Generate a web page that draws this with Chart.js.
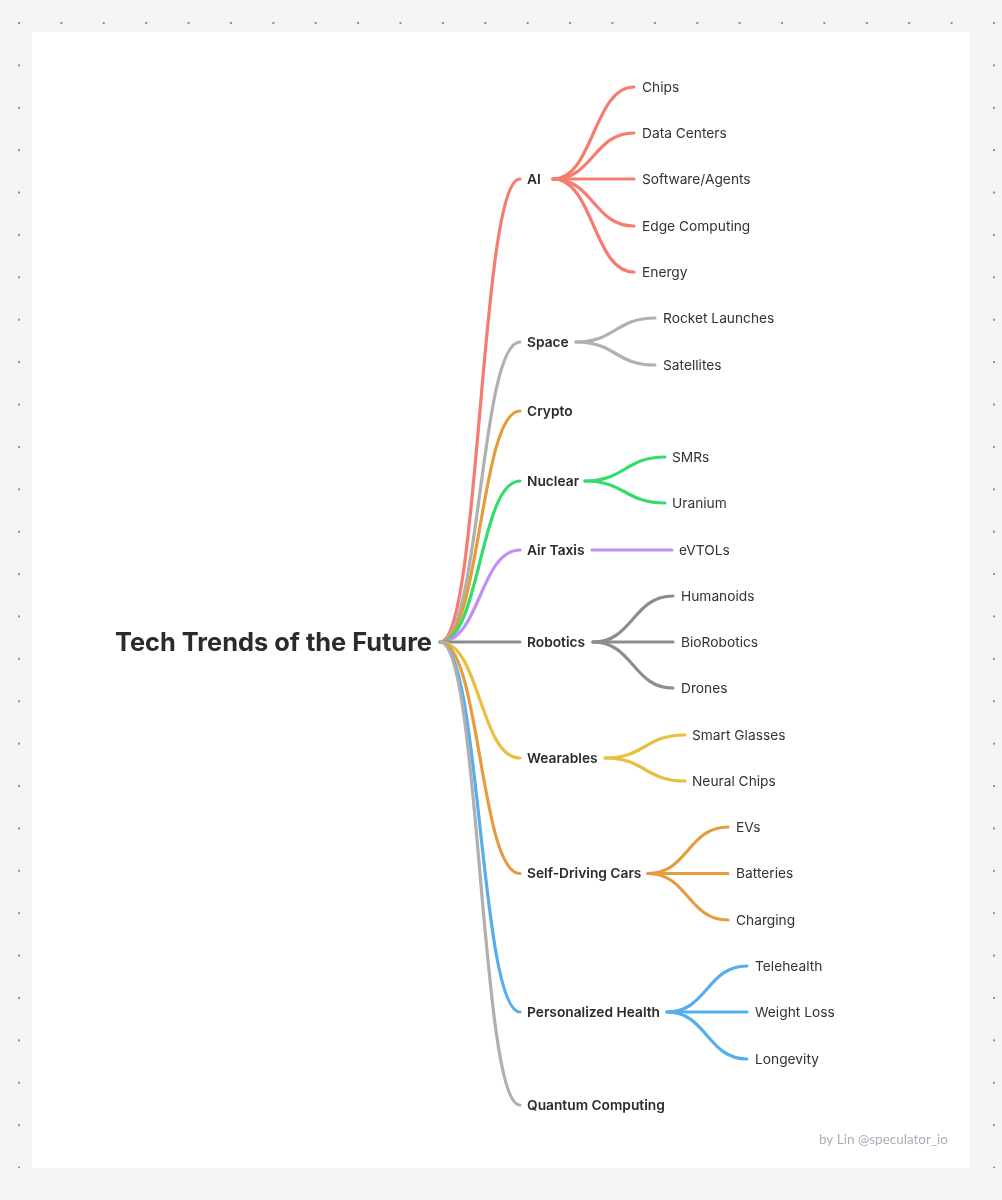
<!DOCTYPE html>
<html>
<head>
<meta charset="utf-8">
<title>Tech Trends of the Future</title>
<script src="https://cdn.jsdelivr.net/npm/chart.js@4"></script>
<style>
  html, body { margin: 0; padding: 0; }
  body {
    width: 1002px; height: 1200px; position: relative; overflow: hidden;
    background-color: #f4f4f4;
    background-image: radial-gradient(circle at 1px 1px, #8f8f8f 0, #8f8f8f 0.9px, transparent 1.3px);
    background-size: 42.4px 42.4px;
    background-position: 18px 22px;
  }
  #panel { position: absolute; left: 32px; top: 32px; width: 938px; height: 1136px; background: #fff; }
  #cover { position: absolute; left: 0; top: 1168px; width: 1002px; height: 32px; background: #f4f4f4; }
  #chart { position: absolute; left: 0; top: 0; }
</style>
</head>
<body>
<div id="panel"></div>
<div id="cover"></div>
<canvas id="chart" width="1002" height="1200"></canvas>
<script>
const title = 'Tech Trends of the Future';
const credit = 'by Lin @speculator_io';
const root = [440, 642];

const branches = ['AI', 'Space', 'Crypto', 'Nuclear', 'Air Taxis', 'Robotics', 'Wearables', 'Self-Driving Cars', 'Personalized Health', 'Quantum Computing'];
const branchY = [179, 342, 411, 481, 550, 642, 758, 873.5, 1012, 1105];
const branchColors = ['#f67c70', '#b0b0b0', '#e59c3d', '#33dc6c', '#c190f6', '#8d8d8d', '#e8c040', '#e69c3e', '#57aeee', '#b0b0b0'];
const leaves = [
  ['Chips', 'Data Centers', 'Software/Agents', 'Edge Computing', 'Energy'],
  ['Rocket Launches', 'Satellites'],
  [],
  ['SMRs', 'Uranium'],
  ['eVTOLs'],
  ['Humanoids', 'BioRobotics', 'Drones'],
  ['Smart Glasses', 'Neural Chips'],
  ['EVs', 'Batteries', 'Charging'],
  ['Telehealth', 'Weight Loss', 'Longevity'],
  [],
];
const leafY = [
  [87, 133, 179, 226, 272],
  [318, 365],
  [],
  [457, 503],
  [550],
  [596, 642, 688],
  [735, 781],
  [827, 873.5, 920],
  [966, 1012, 1059],
  [],
];
const branchEndX = 520;
const branchTextX = 527;
const leafStartX = [553, 576, 0, 585, 592, 593, 605, 648, 667, 0];
const leafEndX = [634, 655, 0, 665, 672, 673, 685, 728, 747, 0];
const leafTextX = [642, 663, 0, 672, 679, 681, 692, 736, 755, 0];

// one dataset per link, later links are painted on top at the root
const links = [];
branches.forEach((name, i) => {
  links.push({ data: [{ x: root[0], y: root[1] }, { x: branchEndX, y: branchY[i] }], color: branchColors[i] });
  leafY[i].forEach((y) => {
    links.push({ data: [{ x: leafStartX[i], y: branchY[i] }, { x: leafEndX[i], y }], color: branchColors[i] });
  });
});

// flat-in flat-out curves: both control points sit at the middle x of the link
const sCurves = {
  id: 'sCurves',
  beforeDatasetDraw(chart, args) {
    const line = args.meta.dataset;
    line.updateControlPoints(chart.chartArea);
    const [a, b] = args.meta.data;
    const midX = (a.x + b.x) / 2;
    a.cp2x = midX; a.cp2y = a.y;
    b.cp1x = midX; b.cp1y = b.y;
  },
};

const mapLabels = {
  id: 'mapLabels',
  afterDatasetsDraw(chart) {
    const { ctx, scales } = chart;
    const put = (text, x, y, font, color, align) => {
      ctx.font = font;
      ctx.fillStyle = color;
      ctx.textAlign = align || 'left';
      ctx.textBaseline = 'middle';
      ctx.fillText(text, scales.x.getPixelForValue(x), scales.y.getPixelForValue(y));
    };
    ctx.save();
    put(title, 432, 643, '700 25.4px Inter', '#2b2b2b', 'right');
    branches.forEach((name, i) => {
      put(name, branchTextX, branchY[i] + 0.5, '600 13.75px Inter', '#2b2b2b');
      leaves[i].forEach((leaf, j) => {
        put(leaf, leafTextX[i], leafY[i][j] + 0.5, '400 13.75px Inter', '#333333');
      });
    });
    put(credit, 948, 1140, '400 13.5px Lato', '#a7b0ba', 'right');
    ctx.restore();
  },
};

new Chart(document.getElementById('chart'), {
  type: 'scatter',
  data: {
    datasets: links.map((link, i) => ({
      data: link.data,
      showLine: true,
      tension: 0.4,
      borderColor: link.color,
      borderWidth: 3.2,
      borderCapStyle: 'round',
      pointRadius: 0,
      order: -i,
    })),
  },
  options: {
    responsive: false,
    animation: false,
    devicePixelRatio: 1,
    layout: { padding: 0 },
    events: [],
    plugins: { legend: { display: false }, tooltip: { enabled: false }, title: { display: false } },
    scales: {
      x: { type: 'linear', display: false, min: 0, max: 1002 },
      y: { type: 'linear', display: false, min: 0, max: 1200, reverse: true },
    },
  },
  plugins: [sCurves, mapLabels],
});
</script>
</body>
</html>
